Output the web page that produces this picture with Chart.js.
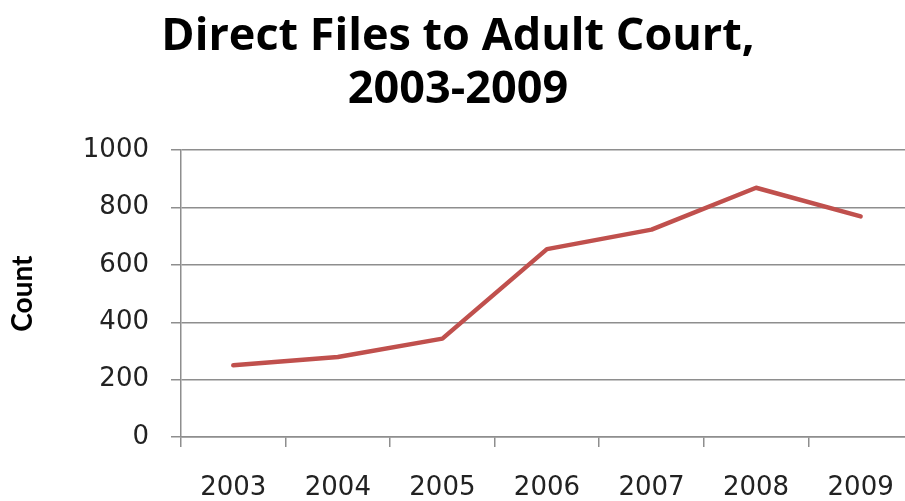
<!DOCTYPE html>
<html>
<head>
<meta charset="utf-8">
<script src="https://cdn.jsdelivr.net/npm/chart.js@4/dist/chart.umd.min.js"></script>
<style>
  html, body { margin: 0; padding: 0; background: #fff; overflow: hidden; }
  #wrap { width: 920px; height: 520px; position: relative; }
</style>
</head>
<body>
<div id="wrap"><canvas id="results"></canvas></div>
<script>
'use strict';

// chart data
var years = ['2003', '2004', '2005', '2006', '2007', '2008', '2009'];
var directFiles = [250, 279, 343, 655, 723, 869, 769];
var titleLines = ['Direct Files to Adult Court,', '2003-2009'];
var yAxisLabel = 'Count';

var gridColor = '#8e8e8e';
var tickFont = { family: 'DejaVu Sans', size: 26 };

createLineChart(years, directFiles);

// creates the chart with provided data
function createLineChart(labels, values) {
  var c = document.getElementById('results');
  var context = c.getContext('2d');

  var results = new Chart(context, {
    type: 'line',
    data: {
      labels: labels,
      datasets: [{
        label: 'Direct Files',
        data: values,
        fill: false,
        tension: 0,
        borderColor: '#c0504d',
        borderWidth: 4.5,
        borderJoinStyle: 'round',
        borderCapStyle: 'round',
        pointRadius: 0
      }]
    },
    options: {
      responsive: true,
      maintainAspectRatio: false,
      animation: false,
      layout: { padding: { left: 0, right: 4, top: 0, bottom: 0 } },
      plugins: {
        legend: { display: false },
        tooltip: { enabled: false },
        title: {
          display: true,
          text: titleLines,
          color: '#000',
          font: { family: 'Open Sans', size: 45, weight: 'bold', lineHeight: 1.18 },
          padding: { top: 11, bottom: 33 }
        }
      },
      scales: {
        x: {
          offset: true,
          grid: {
            offset: true,
            drawOnChartArea: false,
            color: gridColor,
            lineWidth: 1.5,
            tickLength: 10
          },
          border: { color: gridColor, width: 1.5 },
          ticks: { color: '#222', font: tickFont, padding: 26, maxRotation: 0 },
          afterFit: function (scale) { scale.height = 83; }
        },
        y: {
          min: 0,
          max: 1000,
          ticks: {
            stepSize: 200,
            color: '#222',
            font: tickFont,
            padding: 22,
            callback: function (value) { return String(value); }
          },
          grid: { color: gridColor, lineWidth: 1.5, tickLength: 10 },
          border: { color: gridColor, width: 1.5 },
          title: {
            display: true,
            text: yAxisLabel,
            color: '#000',
            font: { family: 'Lato', size: 28, weight: 'bold' },
            padding: { top: 6, bottom: 20 }
          },
          afterFit: function (scale) { scale.width = 181; }
        }
      }
    }
  });
}
</script>
</body>
</html>
